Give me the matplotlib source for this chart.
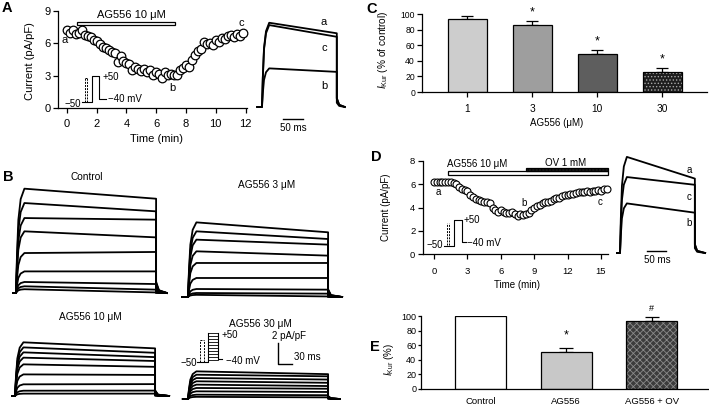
import matplotlib
matplotlib.use('Agg')
import matplotlib.pyplot as plt
from matplotlib.patches import Rectangle

plt.rcParams['font.family'] = ['Liberation Sans', 'DejaVu Sans']
plt.rcParams['mathtext.fontset'] = 'custom'
plt.rcParams['mathtext.rm'] = 'Liberation Sans'
plt.rcParams['mathtext.it'] = 'Liberation Sans:italic'
plt.rcParams['hatch.linewidth'] = 0.6

# ---------------- data ----------------
A_time = [0.0, 0.2, 0.4, 0.6, 0.8, 1.0, 1.2, 1.4, 1.6, 1.8, 2.0, 2.2, 2.4, 2.6, 2.8,
          3.0, 3.2, 3.4, 3.6, 3.8, 4.0, 4.2, 4.4, 4.6, 4.8, 5.0, 5.2, 5.4, 5.6, 5.8,
          6.0, 6.2, 6.4, 6.6, 6.8, 7.0, 7.2, 7.4, 7.6, 7.8, 8.0, 8.2, 8.4, 8.6, 8.8,
          9.0, 9.2, 9.4, 9.6, 9.8, 10.0, 10.2, 10.4, 10.6, 10.8, 11.0, 11.2, 11.4, 11.6, 11.8]
A_current = [7.2, 7.0, 7.2, 6.9, 7.0, 7.2, 6.8, 6.7, 6.6, 6.3, 6.2, 5.9, 5.7, 5.6, 5.4,
             5.2, 5.1, 4.3, 4.8, 4.4, 4.2, 4.1, 3.5, 3.8, 3.6, 3.4, 3.6, 3.3, 3.5, 3.1,
             3.3, 3.2, 2.8, 3.3, 3.1, 3.2, 3.1, 3.1, 3.5, 3.7, 4.0, 3.8, 4.5, 4.9, 5.3,
             5.5, 6.1, 5.9, 6.0, 5.8, 6.3, 6.1, 6.5, 6.4, 6.7, 6.8, 6.6, 6.9, 6.7, 7.0]
A_trace_labels = ['a', 'c', 'b']
A_trace_peak = [7.2, 7.0, 3.3]
A_trace_end = [6.3, 6.0, 3.0]

B_titles = ['Control', 'AG556 3 μM', 'AG556 10 μM', 'AG556 30 μM']
B_ctrl_peak = [9.66, 8.33, 6.94, 5.71, 3.70, 2.00, 1.02, 0.62, 0.35]
B_ctrl_end = [8.73, 7.56, 6.79, 5.15, 3.80, 2.00, 0.83, 0.31, 0.05]
B_3_peak = [6.91, 6.08, 5.31, 4.23, 3.15, 1.76, 0.74, 0.37, 0.20]
B_3_end = [5.99, 5.37, 4.85, 3.83, 3.15, 1.76, 0.68, 0.31, 0.05]
B_10_peak = [4.97, 4.50, 4.04, 3.55, 2.93, 2.00, 1.08, 0.49, 0.22]
B_10_end = [4.41, 4.00, 3.60, 3.24, 2.70, 1.95, 1.10, 0.50, 0.22]
B_30_peak = [2.56, 2.25, 1.94, 1.64, 1.33, 1.02, 0.71, 0.40, 0.20]
B_30_end = [2.30, 2.10, 1.80, 1.50, 1.20, 0.95, 0.65, 0.35, 0.15]

C_conc = ['1', '3', '10', '30']
C_mean = [93, 86, 49, 26]
C_sem = [5, 5, 5, 4.5]

D_time = [0.0, 0.25, 0.5, 0.75, 1.0, 1.25, 1.5, 1.75, 2.0, 2.25, 2.5, 2.75, 3.0, 3.25,
          3.5, 3.75, 4.0, 4.25, 4.5, 4.75, 5.0, 5.25, 5.5, 5.75, 6.0, 6.25, 6.5, 6.75,
          7.0, 7.25, 7.5, 7.75, 8.0, 8.25, 8.5, 8.75, 9.0, 9.25, 9.5, 9.75, 10.0, 10.25,
          10.5, 10.75, 11.0, 11.25, 11.5, 11.75, 12.0, 12.25, 12.5, 12.75, 13.0, 13.25,
          13.5, 13.75, 14.0, 14.25, 14.5, 14.75, 15.0, 15.25, 15.5]
D_current = [6.2, 6.2, 6.2, 6.2, 6.2, 6.2, 6.2, 6.15, 6.05, 5.8, 5.6, 5.5, 5.45, 5.1,
             4.9, 4.75, 4.65, 4.55, 4.45, 4.45, 4.4, 4.0, 3.8, 3.65, 3.8, 3.6, 3.55, 3.5,
             3.6, 3.4, 3.3, 3.45, 3.35, 3.4, 3.55, 3.8, 3.95, 4.1, 4.2, 4.35, 4.45, 4.5,
             4.6, 4.7, 4.8, 4.85, 4.95, 5.05, 5.1, 5.15, 5.2, 5.25, 5.3, 5.3,
             5.35, 5.4, 5.35, 5.45, 5.45, 5.5, 5.45, 5.55, 5.6]
D_trace_labels = ['a', 'c', 'b']
D_trace_peak = [6.2, 4.9, 3.2]
D_trace_end = [4.8, 4.4, 2.6]

E_groups = ['Control', 'AG556', 'AG556 + OV']
E_mean = [100, 51, 93]
E_sem = [0, 5, 5]

# ---------------- layout helpers ----------------
W, H = 709, 409
fig = plt.figure(figsize=(W / 100, H / 100), dpi=100)


def px_axes(x0, y0, x1, y1):
    return fig.add_axes([x0 / W, 1 - y1 / H, (x1 - x0) / W, (y1 - y0) / H])


def style(ax, fs, xpad, ypad, tl=3.5):
    for s in ['top', 'right']:
        ax.spines[s].set_visible(False)
    for s in ['left', 'bottom']:
        ax.spines[s].set_linewidth(0.9)
    ax.tick_params(direction='out', length=tl, width=0.9, labelsize=fs)
    ax.tick_params(axis='x', pad=xpad)
    ax.tick_params(axis='y', pad=ypad)


def trace(ax, peak, end, t_off, t_start, t_stop, lw=1.3):
    xs = [t_start, 0, 2, 5, 10, 18, t_off, t_off, t_off + 6, t_stop]
    ys = [0, 0, 0.35 * peak, 0.7 * peak, 0.9 * peak, peak, end, 0.12 * end, 0.03 * end, 0]
    ax.plot(xs, ys, color='black', lw=lw, solid_joinstyle='round')


# ---------------- Panel A ----------------
axA = px_axes(58, 11, 247, 108)
axA.set_xlim(-0.6, 12.1)
axA.set_ylim(0, 9)
style(axA, 8, 4.5, 1.7)
axA.set_xticks([0, 2, 4, 6, 8, 10, 12])
axA.set_yticks([0, 3, 6, 9])
axA.plot(A_time, A_current, 'o', mfc='white', mec='black', ms=6.2, mew=0.9, clip_on=False, zorder=3)
axA.add_patch(Rectangle((0.71, 7.7), 7.25 - 0.71, 0.32, fc='white', ec='black', lw=0.9, clip_on=False))
axA.text(4.3, 8.62, 'AG556 10 μM', ha='center', va='center', fontsize=8)

axAt = px_axes(250, 10, 350, 112)
axAt.set_xlim(-30, 220)
axAt.set_ylim(-0.43, 8.29)
axAt.axis('off')
for pk, en in zip(A_trace_peak, A_trace_end):
    trace(axAt, pk, en, 187, -12, 207)

# ---------------- Panel B ----------------
B_sets = [(B_ctrl_peak, B_ctrl_end, 16, 293, -6, 323),
          (B_3_peak, B_3_end, 188, 297, -13, 330),
          (B_10_peak, B_10_end, 15, 396, -6, 330),
          (B_30_peak, B_30_end, 188, 399, -11, 325)]
for peaks, ends, t0, base, ts, te in B_sets:
    ax = px_axes(t0 - 30, base - 110, t0 + 160, base + 6)
    ax.set_xlim(-30 / 0.467, 160 / 0.467)
    ax.set_ylim(-6 / 10.8, 110 / 10.8)
    ax.axis('off')
    for pk, en in zip(peaks, ends):
        trace(ax, pk, en, 300, ts, te)

# ---------------- Panel C ----------------
axC = px_axes(422, 14, 707, 92)
axC.set_xlim(-0.7, 3.69)
axC.set_ylim(0, 100)
style(axC, 6.2, 5, 1.5)
axC.tick_params(axis='x', labelsize=7.3)
xC = list(range(len(C_conc)))
C_colors = ['#cdcdcd', '#9e9e9e', '#5e5e5e', '#1e1e1e']
for i in xC:
    if i == 3:
        axC.bar(i, C_mean[i], width=0.6, color=C_colors[i], hatch='.....', edgecolor='#a8a8a8', linewidth=0, zorder=2)
        axC.bar(i, C_mean[i], width=0.6, fill=False, edgecolor='black', linewidth=0.9, zorder=3)
    else:
        axC.bar(i, C_mean[i], width=0.6, color=C_colors[i], edgecolor='black', linewidth=0.9, zorder=2)
axC.errorbar(xC, C_mean, yerr=[[0] * 4, C_sem], fmt='none', ecolor='black', elinewidth=0.9,
             capsize=4.5, capthick=0.9, zorder=1)
for i in [1, 2, 3]:
    axC.text(i, C_mean[i] + C_sem[i] + 3, '*', ha='center', va='bottom', fontsize=9)
axC.set_xticks(xC)
axC.set_xticklabels(C_conc)
axC.set_yticks([0, 20, 40, 60, 80, 100])

# ---------------- Panel D ----------------
axD = px_axes(423, 161, 608, 254)
axD.set_xlim(-1.0, 15.63)
axD.set_ylim(0, 8)
style(axD, 6.8, 5.5, 2)
axD.set_xticks([0, 3, 6, 9, 12, 15])
axD.set_yticks([0, 2, 4, 6, 8])
axD.plot(D_time, D_current, 'o', mfc='white', mec='black', ms=5, mew=0.8, clip_on=False, zorder=3)
axD.add_patch(Rectangle((1.26, 6.81), 15.63 - 1.26, 0.35, fc='white', ec='black', lw=0.9, clip_on=False))
axD.add_patch(Rectangle((8.24, 7.16), 15.63 - 8.24, 0.23, fc='#1a1a1a', ec='black', lw=0.9,
                        hatch='.....', clip_on=False))
axD.text(3.9, 7.78, 'AG556 10 μM', ha='center', va='center', fontsize=7)
axD.text(11.8, 7.85, 'OV 1 mM', ha='center', va='center', fontsize=7)

axDt = px_axes(612, 150, 708, 262)
axDt.set_xlim(-8 / 0.38 - 0.1, 88 / 0.38)
axDt.set_ylim(-9 / 15.5, 103 / 15.5)
axDt.axis('off')
for pk, en in zip(D_trace_peak, D_trace_end):
    trace(axDt, pk, en, 197, -8, 224)

# ---------------- Panel E ----------------
axE = px_axes(421, 316, 709, 389)
axE.set_xlim(-0.7, 2.67)
axE.set_ylim(0, 100)
style(axE, 6.5, 5.8, 1, tl=2.5)
axE.tick_params(axis='x', length=0, labelsize=6.8)
xE = list(range(len(E_groups)))
axE.bar(0, E_mean[0], width=0.6, color='white', edgecolor='black', linewidth=0.9, zorder=2)
axE.bar(1, E_mean[1], width=0.6, color='#c8c8c8', edgecolor='black', linewidth=0.9, zorder=2)
axE.bar(2, E_mean[2], width=0.6, color='#3c3c3c', hatch='xxxxx', edgecolor='#8a8a8a', linewidth=0, zorder=2)
axE.bar(2, E_mean[2], width=0.6, fill=False, edgecolor='black', linewidth=0.9, zorder=3)
axE.errorbar(xE[1:], E_mean[1:], yerr=[[0, 0], E_sem[1:]], fmt='none', ecolor='black', elinewidth=0.9,
             capsize=5, capthick=0.9, zorder=1)
axE.text(1, E_mean[1] + E_sem[1] + 9, '*', ha='center', va='bottom', fontsize=9)
axE.text(2, E_mean[2] + E_sem[2] + 6, '#', ha='center', va='bottom', fontsize=6.5, clip_on=False)
axE.set_xticks(xE)
axE.set_xticklabels(E_groups)
axE.set_yticks([0, 20, 40, 60, 80, 100])

# ---------------- overlay: labels & annotations in pixel coordinates ----------------
ov = fig.add_axes([0, 0, 1, 1])
ov.set_xlim(0, W)
ov.set_ylim(H, 0)
ov.axis('off')
ov.patch.set_alpha(0)

def T(x, y, s, fs=8, ha='center', va='center', **kw):
    ov.text(x, y, s, fontsize=fs, ha=ha, va=va, **kw)

def L(xs, ys, **kw):
    kw.setdefault('color', 'black')
    kw.setdefault('lw', 0.8)
    ov.plot(xs, ys, **kw)

# panel letters
for lab, (x, y) in zip('ABCDE', [(7, 8), (8, 177), (372, 9), (376, 157), (375, 347)]):
    T(x, y, lab, fs=10.5, fontweight='bold')

# axis labels
T(30, 61, 'Current (pA/pF)', fs=8, rotation=90)
T(157, 138.5, 'Time (min)', fs=8)
T(386, 207, 'Current (pA/pF)', fs=7, rotation=90)
T(517, 285, 'Time (min)', fs=7)
T(383, 50, r'$I_{\rm Kur}$ (% of control)', fs=7.3, rotation=90)
T(557, 123, 'AG556 (μM)', fs=7)
T(389, 360, r'$I_{\rm Kur}$ (%)', fs=7, rotation=90)

# time-course letters
T(65, 40, 'a', fs=8); T(172, 88, 'b', fs=8); T(241, 23, 'c', fs=8)
T(438, 192, 'a', fs=7); T(524, 203, 'b', fs=7); T(600, 202, 'c', fs=7)
# trace letters
T(324, 22, 'a', fs=8); T(324, 48, 'c', fs=8); T(324, 86, 'b', fs=8)
T(689, 170, 'a', fs=7); T(689, 197, 'c', fs=7); T(689, 223, 'b', fs=7)

# scale bars
L([283, 303], [119, 119], lw=1)
T(293, 128, '50 ms', fs=7)
L([647, 666], [251, 251], lw=1)
T(657, 260, '50 ms', fs=7)
L([278, 278, 292], [343, 364, 364], lw=1)
T(272, 336, '2 pA/pF', fs=7, ha='left')
T(294, 357, '30 ms', fs=7, ha='left')

# B titles
T(87, 177, B_titles[0], fs=7.3)
T(267, 185, B_titles[1], fs=7.3)
T(90, 317, B_titles[2], fs=7.3)
T(260, 324, B_titles[3], fs=7.3)

# voltage protocol A
L([85, 85], [102, 78], ls=(0, (2, 1.2)), lw=0.7)
L([87.3, 87.3], [102, 78], ls=(0, (2, 1.2)), lw=0.7)
L([85, 87.3], [78, 78], ls=(0, (2, 1.2)), lw=0.7)
L([82, 92, 92, 99.3, 99.3, 106], [102, 102, 76, 76, 99.3, 99.3], lw=0.8)
T(103, 77, '+50', fs=7, ha='left')
T(108, 99.5, '−40 mV', fs=7, ha='left')
T(81, 104, '−50', fs=7, ha='right')

# voltage protocol D
L([446.7, 446.7], [245, 223], ls=(0, (2, 1.2)), lw=0.7)
L([449, 449], [245, 223], ls=(0, (2, 1.2)), lw=0.7)
L([444, 454, 454, 461.7, 461.7, 466], [246, 246, 220, 220, 241.7, 241.7], lw=0.8)
T(464, 220, '+50', fs=7, ha='left')
T(467, 243, '−40 mV', fs=7, ha='left')
T(443, 245, '−50', fs=7, ha='right')

# voltage protocol B (family of steps)
L([200, 200], [362, 340], ls=(0, (2, 1.2)), lw=0.7)
L([204, 204], [362, 340], ls=(0, (2, 1.2)), lw=0.7)
L([200, 204], [340, 340], ls=(0, (2, 1.2)), lw=0.7)
L([197, 208, 208], [362, 362, 333], lw=0.8)
L([218, 218, 222], [333, 359, 359], lw=0.8)
for yy in [333, 336, 339, 342, 345, 348, 351, 354, 357, 359.5]:
    L([208, 218], [yy, yy], lw=0.6)
T(222, 335, '+50', fs=7, ha='left')
T(226, 361, '−40 mV', fs=7, ha='left')
T(197, 363, '−50', fs=7, ha='right')

fig.savefig('out.png', dpi=100)
